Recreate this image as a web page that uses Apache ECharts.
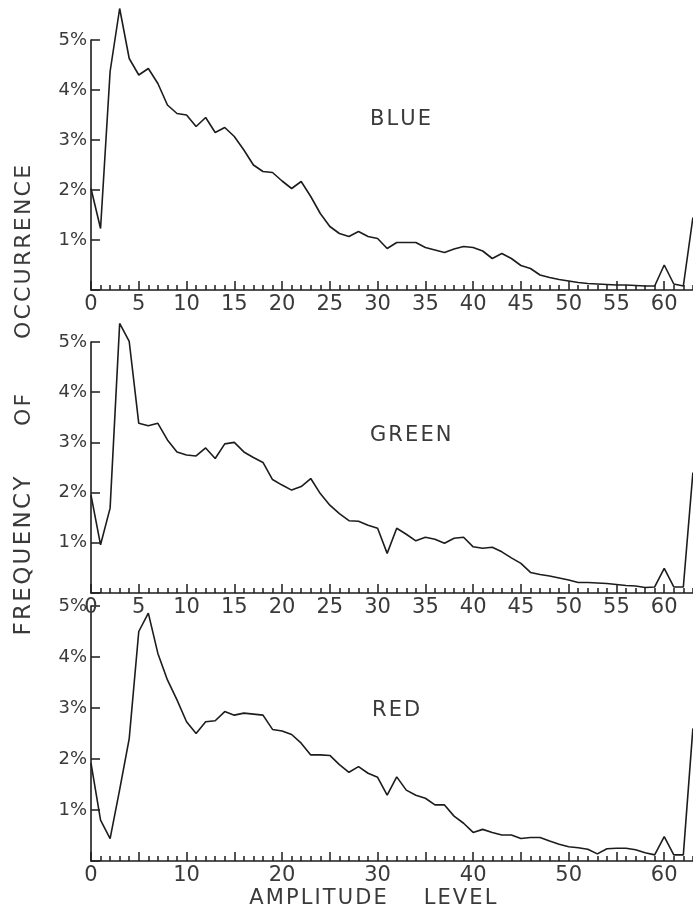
<!DOCTYPE html>
<html>
<head>
<meta charset="utf-8">
<style>
  html, body { margin: 0; padding: 0; background: #fff; }
  #chart { width: 693px; height: 913px; }
</style>
</head>
<body>
<div id="chart"></div>
<script src="https://cdn.jsdelivr.net/npm/echarts@6/dist/echarts.min.js"></script>
<script>
// amplitude levels 0..63
const levels = [0, 1, 2, 3, 4, 5, 6, 7, 8, 9, 10, 11, 12, 13, 14, 15, 16, 17, 18, 19,
  20, 21, 22, 23, 24, 25, 26, 27, 28, 29, 30, 31, 32, 33, 34, 35, 36, 37, 38, 39,
  40, 41, 42, 43, 44, 45, 46, 47, 48, 49, 50, 51, 52, 53, 54, 55, 56, 57, 58, 59,
  60, 61, 62, 63]

// frequency of occurrence, percent
const blue = [2.03, 1.23, 4.37, 5.63, 4.63, 4.30, 4.43, 4.13, 3.70, 3.53,
  3.50, 3.27, 3.45, 3.15, 3.25, 3.07, 2.80, 2.50, 2.37, 2.35,
  2.18, 2.03, 2.17, 1.87, 1.53, 1.27, 1.13, 1.07, 1.17, 1.07,
  1.03, 0.83, 0.95, 0.95, 0.95, 0.85, 0.80, 0.75, 0.82, 0.87,
  0.85, 0.78, 0.63, 0.73, 0.63, 0.49, 0.43, 0.30, 0.25, 0.21,
  0.18, 0.15, 0.13, 0.12, 0.11, 0.10, 0.10, 0.09, 0.08, 0.08,
  0.50, 0.12, 0.08, 1.45]

const green = [1.95, 0.96, 1.69, 5.37, 5.01, 3.38, 3.33, 3.38, 3.05, 2.81,
  2.75, 2.73, 2.89, 2.68, 2.97, 3.00, 2.81, 2.70, 2.60, 2.26,
  2.15, 2.05, 2.12, 2.28, 1.98, 1.75, 1.58, 1.44, 1.43, 1.35,
  1.29, 0.79, 1.29, 1.17, 1.04, 1.11, 1.07, 0.99, 1.09, 1.11,
  0.92, 0.89, 0.91, 0.82, 0.70, 0.59, 0.41, 0.37, 0.34, 0.30,
  0.26, 0.21, 0.21, 0.20, 0.19, 0.17, 0.15, 0.14, 0.11, 0.12,
  0.49, 0.12, 0.12, 2.40]

const red = [1.92, 0.80, 0.44, 1.40, 2.40, 4.50, 4.86, 4.07, 3.55, 3.16,
  2.73, 2.50, 2.73, 2.75, 2.93, 2.86, 2.90, 2.88, 2.86, 2.58,
  2.55, 2.48, 2.31, 2.08, 2.08, 2.07, 1.89, 1.74, 1.85, 1.72,
  1.64, 1.29, 1.65, 1.39, 1.29, 1.23, 1.10, 1.10, 0.88, 0.74,
  0.56, 0.62, 0.56, 0.51, 0.51, 0.44, 0.46, 0.46, 0.39, 0.33,
  0.28, 0.26, 0.23, 0.14, 0.24, 0.25, 0.25, 0.22, 0.16, 0.12,
  0.48, 0.12, 0.12, 2.60]

const panelNames = ['BLUE', 'GREEN', 'RED']
const labelSteps = [5, 5, 10] // x tick label every n levels
const yTicks = [0, 1, 2, 3, 4, 5]

const INK = '#1c1c1c'
const TEXT = '#3a3a3a'
const FONT = 'DejaVu Sans'

// letter spaced text, like the old stencil lettering
const spaced = s => s.split('').join('\u200A')

// panel layout, the x axis runs on past the right edge of the page
const grids = [
  { left: 91, width: 621, top: 40, height: 250, outerBoundsMode: 'none' },
  { left: 91, width: 621, top: 342, height: 251, outerBoundsMode: 'none' },
  { left: 91, width: 621, top: 606, height: 255, outerBoundsMode: 'none' },
]

function xAxisConf (i) {
  const step = labelSteps[i]
  return {
    type: 'value',
    gridIndex: i,
    min: 0,
    max: 65,
    interval: 5,
    axisLine: { lineStyle: { color: INK, width: 1.6 } },
    axisTick: { inside: true, length: 9, lineStyle: { color: INK, width: 1.5 } },
    minorTick: { show: true, splitNumber: 5, length: 5, lineStyle: { color: INK, width: 1.5 } },
    splitLine: { show: false },
    axisLabel: {
      margin: 4,
      fontSize: 21,
      color: TEXT,
      fontFamily: FONT,
      formatter: v => (v % step === 0 && v <= 60) ? String(v) : '',
    },
  }
}

function yAxisConf (i) {
  return {
    type: 'value',
    gridIndex: i,
    min: yTicks[0],
    max: yTicks[yTicks.length - 1],
    interval: 1,
    axisLine: { show: true, onZero: false, lineStyle: { color: INK, width: 1.6 } },
    axisTick: { show: true, inside: true, length: 9, lineStyle: { color: INK, width: 1.5 } },
    splitLine: { show: false },
    axisLabel: {
      margin: 4,
      fontSize: 18,
      color: TEXT,
      fontFamily: FONT,
      formatter: v => v === 0 ? '' : v + '%',
    },
  }
}

const seriesData = [blue, green, red]

const series = seriesData.map((vals, i) => ({
  type: 'line',
  name: panelNames[i],
  xAxisIndex: i,
  yAxisIndex: i,
  data: levels.map((l, k) => [l, vals[k]]),
  symbol: 'none',
  clip: false,
  silent: true,
  lineStyle: { color: INK, width: 1.6 },
}))

const textStyle = (size) => ({ fill: TEXT, font: `${size}px "${FONT}"` })

const graphic = [
  // panel names
  { type: 'text', x: 370, y: 120, style: Object.assign({ text: spaced('BLUE'), verticalAlign: 'middle' }, textStyle(21)) },
  { type: 'text', x: 370, y: 436, style: Object.assign({ text: spaced('GREEN'), verticalAlign: 'middle' }, textStyle(21)) },
  { type: 'text', x: 372, y: 711, style: Object.assign({ text: spaced('RED'), verticalAlign: 'middle' }, textStyle(21)) },
  // x axis title
  { type: 'text', x: 318, y: 899, style: Object.assign({ text: spaced('AMPLITUDE'), align: 'center', verticalAlign: 'middle' }, textStyle(21)) },
  { type: 'text', x: 460, y: 899, style: Object.assign({ text: spaced('LEVEL'), align: 'center', verticalAlign: 'middle' }, textStyle(21)) },
  // y axis title, reads bottom to top
  { type: 'text', x: 24, y: 556, rotation: Math.PI / 2, style: Object.assign({ text: spaced('FREQUENCY'), align: 'center', verticalAlign: 'middle' }, textStyle(23)) },
  { type: 'text', x: 24, y: 410, rotation: Math.PI / 2, style: Object.assign({ text: spaced('OF'), align: 'center', verticalAlign: 'middle' }, textStyle(22)) },
  { type: 'text', x: 24, y: 252, rotation: Math.PI / 2, style: Object.assign({ text: spaced('OCCURRENCE'), align: 'center', verticalAlign: 'middle' }, textStyle(22)) },
]

const chart = echarts.init(document.getElementById('chart'), null, { renderer: 'canvas' })
chart.setOption({
  animation: false,
  backgroundColor: '#fff',
  grid: grids,
  xAxis: grids.map((g, i) => xAxisConf(i)),
  yAxis: grids.map((g, i) => yAxisConf(i)),
  series: series,
  graphic: graphic,
})
</script>
</body>
</html>
